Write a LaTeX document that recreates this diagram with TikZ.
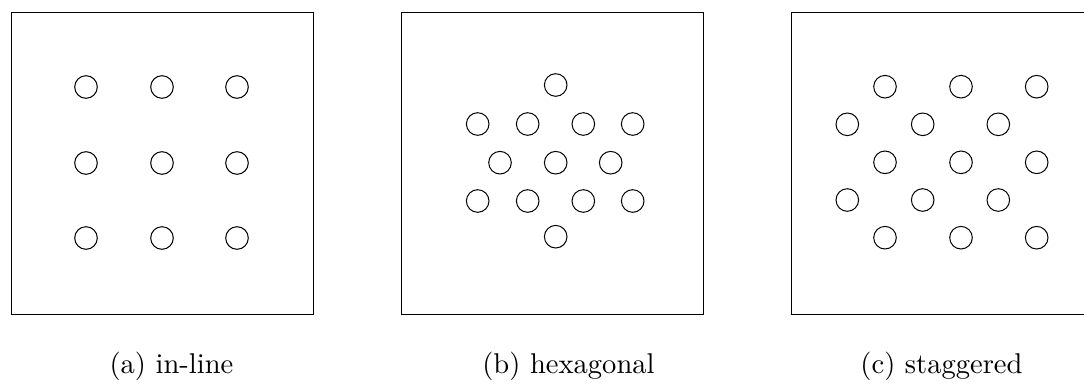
\documentclass[tikz,border=0pt]{standalone}
\begin{document}
\begin{tikzpicture}[x=0.35pt,y=-0.35pt,
  tube/.style={draw,line width=0.35pt},
  plate/.style={draw,line width=0.35pt},
  captext/.style={font=\normalsize,anchor=center}]
\useasboundingbox (0,0) rectangle (1084,385);
% (a) in-line
\draw[plate] (11,12) rectangle (313,314);
\foreach \x in {86,162,237}
  \foreach \y in {87,163,238}
    \draw[tube] (\x,\y) circle[radius=11.3];
% (b) hexagonal
\draw[plate] (401,12) rectangle (703,314);
\draw[tube] (555.7,85) circle[radius=11.3];
\foreach \x in {477.7,527.7,583.3,632.7}
  \foreach \y in {124,201}
    \draw[tube] (\x,\y) circle[radius=11.3];
\foreach \x in {500,555.7,610.7}
  \draw[tube] (\x,162.7) circle[radius=11.3];
\draw[tube] (555.7,236.7) circle[radius=11.3];
% (c) staggered
\draw[plate] (791.7,12) rectangle (1093.7,314);
\foreach \x in {885,961,1036.7}
  \foreach \y in {86.7,162.3,237.7}
    \draw[tube] (\x,\y) circle[radius=11.3];
\foreach \x in {847.3,922.7,998.3}
  \foreach \y in {124.3,200}
    \draw[tube] (\x,\y) circle[radius=11.3];
% captions
\node[captext] (ca) at (171.5,366) {(a) in-line};
\node[captext] (cb) at (568.5,366) {(b) hexagonal};
\node[captext] (cc) at (941.5,366) {(c) staggered};
\end{tikzpicture}
\end{document}
